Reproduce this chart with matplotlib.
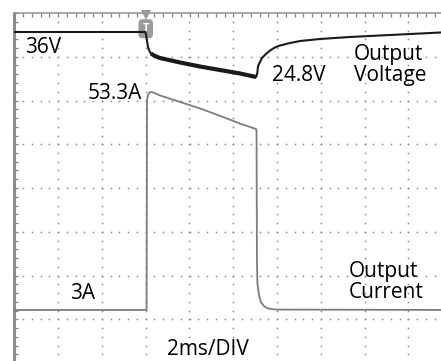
import numpy as np
import matplotlib
matplotlib.use("Agg")
import matplotlib.pyplot as plt

plt.rcParams['font.family'] = ['Open Sans', 'DejaVu Sans']

# scope capture: 2 ms/div, trigger at t = 0
t_volt = [-6.0, -2.09, -0.03, 0.014, 0.06, 0.105, 0.17, 0.24, 0.42, 0.65,
          1.57, 2.48, 3.39, 4.31, 5.04, 5.09, 5.13, 5.31, 5.49, 5.68,
          5.90, 6.13, 6.59, 7.05, 7.96, 9.33, 10.70, 12.07, 13.48, 13.99]
v_out = [36.0, 36.0, 36.0, 35.5, 33.76, 32.27, 31.27, 30.65, 30.03, 29.53,
         28.41, 27.41, 26.54, 25.67, 24.8, 25.55, 27.54, 29.53, 30.52, 31.4,
         32.14, 32.64, 33.26, 33.76, 34.26, 34.76, 35.13, 35.5, 35.88, 36.0]

t_curr = [-6.0, 0.04, 0.06, 0.105, 0.20, 0.33, 0.65, 1.57, 2.48, 3.39,
          4.31, 5.04, 5.06, 5.08, 5.10, 5.17, 5.26, 5.40, 5.58, 5.90, 14.0]
i_out = [3.0, 3.0, 51.45, 52.6, 53.3, 53.2, 52.5, 51.0, 49.5, 47.8,
         46.0, 44.75, 44.3, 14.5, 9.2, 6.5, 4.85, 3.9, 3.35, 3.1, 3.0]

MS_PER_DIV = 2.0
N_XDIV, N_YDIV = 10, 8
VOLT_LIM = (-46.39, 40.73)
CURR_LIM = (-9.23, 71.52)

fig = plt.figure(figsize=(4.41, 3.61), dpi=100)
ax = fig.add_axes([14.3 / 441, -2 / 361, 438 / 441, 350 / 361])
ax.set_xlim(-3 * MS_PER_DIV, 7 * MS_PER_DIV)
ax.set_ylim(0, N_YDIV)

# dotted graticule, five dots per division
grid_col = '#8a8a8a'
for i in range(1, N_XDIV):
    xg = -6 + i * MS_PER_DIV
    yy = np.arange(0, N_YDIV + 0.01, 0.2)
    ax.plot(np.full_like(yy, xg), yy, ls='none', marker='s', ms=1.1,
            mew=0, color=grid_col, zorder=1)
for j in range(1, N_YDIV):
    xx = np.arange(-6, 14.01, 0.4)
    ax.plot(xx, np.full_like(xx, j), ls='none', marker='s', ms=1.1,
            mew=0, color=grid_col, zorder=1)

for s in ['right', 'bottom']:
    ax.spines[s].set_visible(False)
ax.spines['left'].set_color('#858585')
ax.spines['left'].set_linewidth(2.0)
ax.spines['top'].set_color('#9a9a9a')
ax.spines['top'].set_linewidth(1.2)
ax.xaxis.set_ticks_position('top')
ax.set_xticks(np.arange(-6, 14.01, 0.4))
ax.set_yticks(np.arange(0, 8.01, 0.2))
ax.tick_params(direction='in', length=2.6, width=0.9, color='#858585',
               labeltop=False, labelleft=False, labelbottom=False)

# voltage and current channels on their own vertical scales
axv = ax.twinx()
axv.set_ylim(*VOLT_LIM)
axc = ax.twinx()
axc.set_ylim(*CURR_LIM)
for a in (axv, axc):
    a.set_axis_off()

axc.plot(t_curr, i_out, color='#7d7d7d', lw=1.3, zorder=3)
axv.plot(t_volt, v_out, color='#1a1a1a', lw=1.5, zorder=4)
sag = [k for k, t in enumerate(t_volt) if 0.2 <= t <= 5.04]
axv.plot([t_volt[k] for k in sag], [v_out[k] for k in sag],
         color='#1a1a1a', lw=3.0, solid_capstyle='butt', zorder=4)

# trigger marker
ax.plot([0], [7.95], marker='v', ms=6.5, color='#9a9a9a', mew=0,
        clip_on=False, zorder=5)
ax.text(0, 7.64, 'T', ha='center', va='center', color='white', fontsize=8,
        fontweight='bold',
        bbox=dict(boxstyle='round,pad=0.3,rounding_size=0.3',
                  fc='#9a9a9a', ec='#9a9a9a'), zorder=5)

fs = 15
ax.text(-5.51, 7.08, '36V', fontsize=fs, va='baseline')
ax.text(-0.17, 6.03, '53.3A', fontsize=fs, va='baseline', ha='right')
ax.text(5.77, 6.44, '24.8V', fontsize=fs, va='baseline')
ax.text(9.5, 6.918, 'Output', fontsize=fs, va='baseline')
ax.text(9.5, 6.438, 'Voltage', fontsize=fs, va='baseline')
ax.text(9.27, 1.963, 'Output', fontsize=fs, va='baseline')
ax.text(9.27, 1.484, 'Current', fontsize=fs, va='baseline')
ax.text(-3.46, 1.461, '3A', fontsize=fs, va='baseline')
ax.text(0.97, 0.19, '2ms/DIV', fontsize=fs, va='baseline')

fig.savefig('out.png', dpi=100)
